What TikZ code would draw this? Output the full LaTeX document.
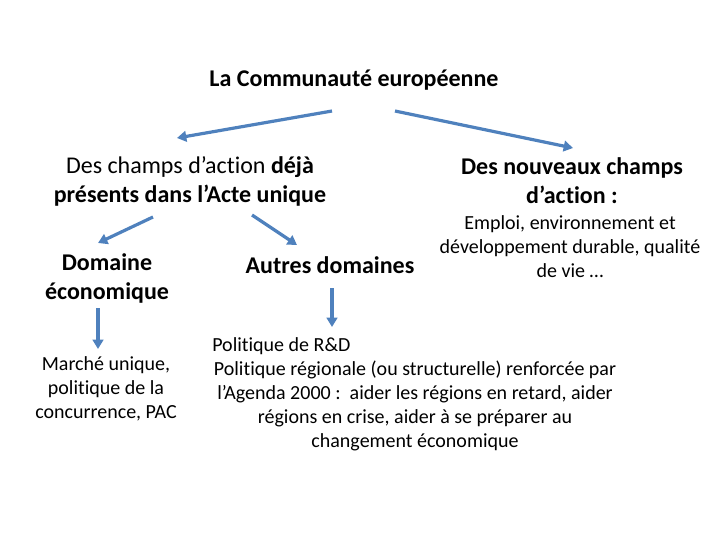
\documentclass[tikz,border=0pt]{standalone}
\usepackage{fontspec}
\setmainfont[Ligatures={NoCommon}]{Carlito}
\usetikzlibrary{arrows.meta}
\definecolor{arrowblue}{RGB}{79,129,189}
\tikzset{
  arr/.style={draw=arrowblue, line width=2.4pt, -{Triangle[length=7pt,width=8pt]}},
  head/.style={inner sep=0pt, align=center, font=\fontsize{18pt}{21.75pt}\selectfont},
  body/.style={inner sep=0pt, align=center, font=\fontsize{15pt}{18pt}\selectfont},
}
\begin{document}
\begin{tikzpicture}[x=0.75pt,y=-0.75pt]
\useasboundingbox (0,0) rectangle (720,540);
\node[head] (title) at (354,80) {\textbf{La Communauté européenne}};
\node[head] (old) at (190,181) {Des champs d’action \textbf{déjà}\\\textbf{présents dans l’Acte unique}};
\node[head] (new) at (572,181) {\textbf{Des nouveaux champs}\\\textbf{d’action :}};
\node[body] (newdesc) at (570,247) {Emploi, environnement et\\développement durable, qualité\\de vie …};
\node[head] (eco) at (107,278) {\textbf{Domaine}\\\textbf{économique}};
\node[head] (autres) at (330,265) {\textbf{Autres domaines}};
\node[body] (marche) at (106,389) {Marché unique,\\politique de la\\concurrence, PAC};
\node[body, anchor=west] (rd) at (212,346) {Politique de R\&D};
\node[body] (pol) at (415,406) {Politique régionale (ou structurelle) renforcée par\\l’Agenda 2000 :\ \ aider les régions en retard, aider\\régions en crise, aider à se préparer au\\changement économique};
\coordinate (a1s) at (332,111); \coordinate (a1e) at (177,138);
\coordinate (a2s) at (395,111); \coordinate (a2e) at (573,148);
\coordinate (a3s) at (153,217); \coordinate (a3e) at (98,243);
\coordinate (a4s) at (252,215); \coordinate (a4e) at (297,245);
\coordinate (a5s) at (98,308); \coordinate (a5e) at (98,349);
\coordinate (a6s) at (332,288); \coordinate (a6e) at (332,327);
\draw[arr] (a1s) -- (a1e);
\draw[arr] (a2s) -- (a2e);
\draw[arr] (a3s) -- (a3e);
\draw[arr] (a4s) -- (a4e);
\draw[arr] (a5s) -- (a5e);
\draw[arr] (a6s) -- (a6e);
\end{tikzpicture}
\end{document}
